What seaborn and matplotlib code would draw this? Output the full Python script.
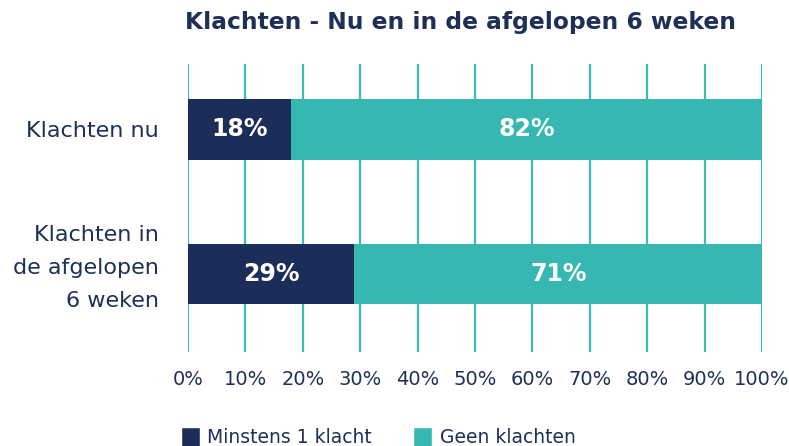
import matplotlib
matplotlib.use("Agg")
import matplotlib.pyplot as plt
import matplotlib.transforms as mtransforms
import seaborn as sns
import pandas as pd
from matplotlib.patches import Patch

# data
categories = ["Klachten nu", "Klachten in\nde afgelopen\n6 weken"]
minstens_1 = [18, 29]
geen = [82, 71]
ticks = list(range(0, 101, 10))

NAVY = "#1c2d5a"
TEAL = "#36b7b1"
TEXT = "#1f2f57"

df = pd.DataFrame({"cat": categories, "minstens": minstens_1, "geen": geen})
df["totaal"] = df["minstens"] + df["geen"]

sns.set_style("white")
plt.rcParams["font.family"] = ["DejaVu Sans"]

fig = plt.figure(figsize=(7.89, 4.46), dpi=100)
ax = fig.add_axes([188 / 789, 1 - 352 / 446, (762 - 188) / 789, (352 - 64) / 446])

# stacked: full bar in teal, navy part on top
sns.barplot(data=df, x="totaal", y="cat", orient="h", color=TEAL, width=0.42,
            saturation=1, linewidth=0, ax=ax, zorder=2)
sns.barplot(data=df, x="minstens", y="cat", orient="h", color=NAVY, width=0.42,
            saturation=1, linewidth=0, ax=ax, zorder=3)

for i, (m, g) in enumerate(zip(minstens_1, geen)):
    ax.text(m / 2, i, f"{m}%", color="white", fontsize=17, fontweight="bold",
            ha="center", va="center", zorder=4)
    ax.text(m + g / 2, i, f"{g}%", color="white", fontsize=17, fontweight="bold",
            ha="center", va="center", zorder=4)

ax.set_xlim(0, 100)
ax.set_ylim(1.54, -0.453)
ax.set_xticks(ticks)
ax.set_xticklabels([f"{t}%" for t in ticks], fontsize=14, color=TEXT)
ax.set_yticks(range(len(categories)))
ax.set_yticklabels([])
ax.tick_params(axis="both", length=0)
ax.tick_params(axis="x", pad=13)
ax.set_xlabel("")
ax.set_ylabel("")

# category labels, right aligned left of the axes
lab_tr = mtransforms.blended_transform_factory(ax.transAxes, ax.transData)
for i, cat in enumerate(categories):
    up = -0.015 if "\n" not in cat else 0.06
    ax.text(0, i, cat, fontsize=16, color=TEXT, ha="right", va="center",
            multialignment="right", linespacing=1.8,
            transform=lab_tr + mtransforms.ScaledTranslation(-0.29, up, fig.dpi_scale_trans))

for s in ax.spines.values():
    s.set_visible(False)
ax.xaxis.grid(True, color="#3dbbb4", linewidth=1.6, zorder=1)
ax.yaxis.grid(False)
ax.set_axisbelow(True)

fig.text(461 / 789, 1 - 23 / 446, "Klachten - Nu en in de afgelopen 6 weken",
         fontsize=16.8, fontweight="bold", color=TEXT, ha="center", va="center")

handles = [Patch(facecolor=NAVY, label="Minstens 1 klacht"),
           Patch(facecolor=TEAL, label="Geen klachten")]
fig.legend(handles=handles, loc="center left", bbox_to_anchor=(181 / 789, 1 - 437 / 446),
           ncol=2, frameon=False, fontsize=13.5, handlelength=1.0, handleheight=1.3,
           handletextpad=0.4, columnspacing=2.2, borderpad=0, borderaxespad=0,
           labelcolor=TEXT)

fig.savefig("out.png", dpi=100)
